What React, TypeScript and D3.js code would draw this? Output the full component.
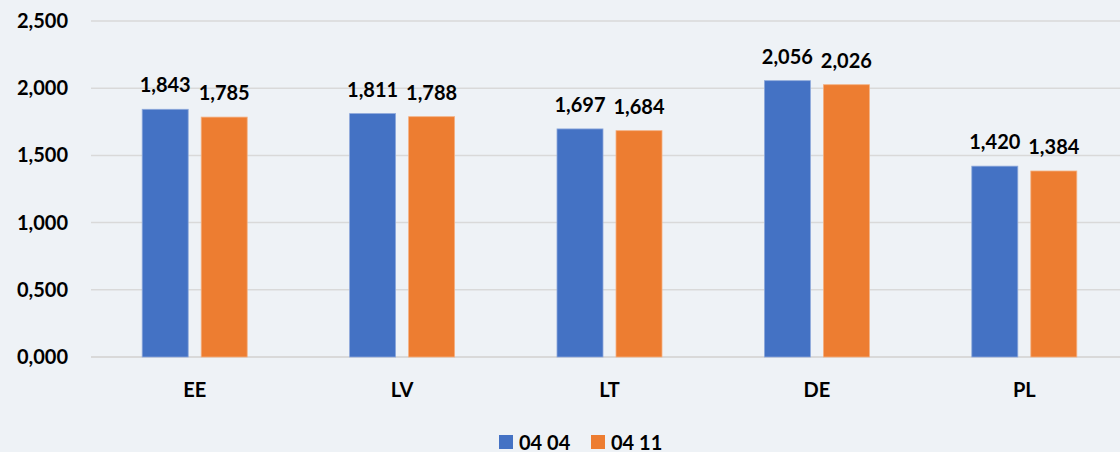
import React from 'react';
import * as d3 from 'd3';

const categories = ['EE', 'LV', 'LT', 'DE', 'PL'];
const seriesNames = ['04 04', '04 11'];
const series0404 = [1.843, 1.811, 1.697, 2.056, 1.42];
const series0411 = [1.785, 1.788, 1.684, 2.026, 1.384];
const yTicks = [0, 0.5, 1, 1.5, 2, 2.5];
const colors = ['#4472C4', '#ED7D31'];

const W = 1120, H = 452;
const font = 'Lato, "Open Sans", sans-serif';

// 3 decimals with comma as separator
const fmt = (v: number) => d3.format('.3f')(v).replace('.', ',');

export default function App() {
    const x = d3.scaleBand().domain(categories).range([91, 1128]);
    const y = d3.scaleLinear().domain([0, 2.5]).range([357, 21]);
    const barW = 46, gap = 13;
    const all = [series0404, series0411];

    return (
        <svg width={W} height={H} style={{position: 'absolute', left: 0, top: 0, background: '#EEF2F6'}}
            fontFamily={font} fontWeight="bold">
            <rect x={0} y={0} width={W} height={H} fill="#EEF2F6" />
            {yTicks.map((t) => (
                <g key={t}>
                    <line x1={91} x2={W} y1={y(t)} y2={y(t)} stroke="#D9D9D9" strokeWidth={t === 0 ? 2 : 1.5} />
                    <text x={68} y={y(t) + 7} textAnchor="end" fontSize={20} fill="#000">{fmt(t)}</text>
                </g>
            ))}
            {categories.map((c, i) => {
                const cx = (x(c) as number) + x.bandwidth() / 2;
                return (
                    <g key={c}>
                        {all.map((s, k) => {
                            const bx = k === 0 ? cx - gap / 2 - barW : cx + gap / 2;
                            return (
                                <g key={k}>
                                    <rect x={bx} y={y(s[i])} width={barW} height={y(0) - y(s[i])}
                                        fill={colors[k]} stroke={k === 0 ? '#8EA9DB' : '#F4B183'} strokeWidth={0.8} />
                                    <text x={bx + barW / 2} y={y(s[i]) - 17} textAnchor="middle" fontSize={20} fill="#000">
                                        {fmt(s[i])}
                                    </text>
                                </g>
                            );
                        })}
                        <text x={cx} y={397} textAnchor="middle" fontSize={20} fill="#000">{c}</text>
                    </g>
                );
            })}
            {seriesNames.map((n, k) => (
                <g key={n} transform={`translate(${k === 0 ? 499 : 591},435)`}>
                    <rect x={0} y={0} width={14} height={14} fill={colors[k]} />
                    <text x={20} y={14.5} fontSize={20} fill="#000">{n}</text>
                </g>
            ))}
        </svg>
    );
}
